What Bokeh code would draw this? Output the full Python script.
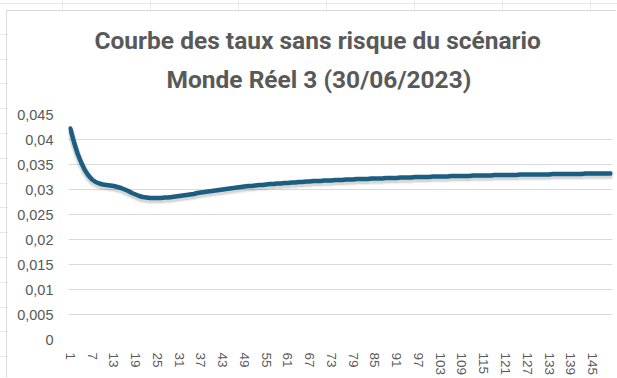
from bokeh.plotting import figure
from bokeh.models import FixedTicker, Title, Range1d
from bokeh.layouts import column
from bokeh.embed import file_html
from bokeh.resources import INLINE

# Maturities (years) and risk-free zero-coupon rates
maturities = list(range(1, 151))
rates = [
    0.0422, 0.0395, 0.0372, 0.0354, 0.0339, 0.0328, 0.0320, 0.0315, 0.0312, 0.0310,
    0.0309, 0.0308, 0.0307, 0.0305, 0.0303, 0.0300, 0.0297, 0.0293, 0.0290, 0.0287,
    0.0285, 0.0284, 0.0283, 0.0283, 0.0283, 0.0283, 0.0284, 0.0284, 0.0285, 0.0286,
    0.0287, 0.0288, 0.0289, 0.0290, 0.0291, 0.0293, 0.0294, 0.0295, 0.0296, 0.0297,
    0.0298, 0.0299, 0.0300, 0.0301, 0.0302, 0.0303, 0.0304, 0.0305, 0.0306, 0.0307,
    0.0307, 0.0308, 0.0309, 0.0309, 0.0310, 0.0311, 0.0311, 0.0312, 0.0312, 0.0313,
    0.0313, 0.0314, 0.0314, 0.0315, 0.0315, 0.0316, 0.0316, 0.0317, 0.0317, 0.0317,
    0.0318, 0.0318, 0.0318, 0.0319, 0.0319, 0.0319, 0.0320, 0.0320, 0.0320, 0.0321,
    0.0321, 0.0321, 0.0321, 0.0322, 0.0322, 0.0322, 0.0322, 0.0323, 0.0323, 0.0323,
    0.0323, 0.0324, 0.0324, 0.0324, 0.0324, 0.0325, 0.0325, 0.0325, 0.0325, 0.0325,
    0.0326, 0.0326, 0.0326, 0.0326, 0.0326, 0.0327, 0.0327, 0.0327, 0.0327, 0.0327,
    0.0327, 0.0328, 0.0328, 0.0328, 0.0328, 0.0328, 0.0328, 0.0329, 0.0329, 0.0329,
    0.0329, 0.0329, 0.0329, 0.0329, 0.0330, 0.0330, 0.0330, 0.0330, 0.0330, 0.0330,
    0.0330, 0.0330, 0.0330, 0.0331, 0.0331, 0.0331, 0.0331, 0.0331, 0.0331, 0.0331,
    0.0331, 0.0331, 0.0332, 0.0332, 0.0332, 0.0332, 0.0332, 0.0332, 0.0332, 0.0332,
]

y_ticks = [0, 0.005, 0.01, 0.015, 0.02, 0.025, 0.03, 0.035, 0.04, 0.045]
y_tick_labels = ["0", "0,005", "0,01", "0,015", "0,02", "0,025", "0,03", "0,035", "0,04", "0,045"]
x_ticks = list(range(1, 151, 6))

title_lines = ["Courbe des taux sans risque du scénario", "Monde Réel 3 (30/06/2023)"]

GREY_TEXT = "#595959"
GRID = "#d9d9d9"
LINE = "#1b5e80"

p = figure(
    width=610, height=367,
    output_backend="svg", toolbar_location=None,
    x_range=Range1d(0.5, 150.5), y_range=Range1d(0, 0.045),
    min_border_left=61, min_border_right=5, min_border_top=103, min_border_bottom=38,
    background_fill_color="white", border_fill_color="white",
)
p.margin = (11, 0, 0, 7)
p.styles = {"box-shadow": "-1px -1px 0 0 #d9d9d9"}
p.outline_line_color = None

# y axis
p.yaxis.ticker = FixedTicker(ticks=y_ticks)
p.yaxis.major_label_overrides = {t: s for t, s in zip(y_ticks, y_tick_labels)}
p.yaxis.axis_line_color = None
p.yaxis.major_tick_line_color = None
p.yaxis.minor_tick_line_color = None
p.yaxis.major_label_standoff = 9
p.yaxis.major_label_text_color = GREY_TEXT
p.yaxis.major_label_text_font = "Liberation Sans"
p.yaxis.major_label_text_font_size = "14.5px"

# x axis
p.xaxis.ticker = FixedTicker(ticks=x_ticks)
p.xaxis.axis_line_color = None
p.xaxis.major_tick_line_color = None
p.xaxis.minor_tick_line_color = None
p.xaxis.major_label_orientation = "vertical"
p.xaxis.major_label_standoff = 7
p.xaxis.major_label_text_color = GREY_TEXT
p.xaxis.major_label_text_font = "Liberation Sans"
p.xaxis.major_label_text_font_size = "13.5px"

p.xgrid.grid_line_color = None
p.ygrid.grid_line_color = GRID
p.ygrid.grid_line_width = 1.2

# soft drop shadow under the curve
for dy, w, a in [(0.00045, 8, 0.06), (0.00040, 6, 0.10)]:
    p.line(maturities, [r - dy for r in rates], line_color="black", line_width=w,
           line_alpha=a, line_join="round", line_cap="round")

p.line(maturities, rates, line_color=LINE, line_width=4.5, line_join="round", line_cap="round")

# two-line title: the line added first sits nearest the plot frame
title_style = dict(align="left", text_font="Roboto", text_font_style="bold",
                   text_font_size="24.5px", text_color=GREY_TEXT)
p.add_layout(Title(text=title_lines[1], offset=98, standoff=42, **title_style), "above")
p.add_layout(Title(text=title_lines[0], offset=26, standoff=-26, **title_style), "above")

page = column(p, styles={
    "background-color": "white",
    "background-image": (
        "repeating-linear-gradient(to bottom, transparent 0px, transparent 23.8px, #e8e8e8 23.8px, #e8e8e8 24.8px),"
        "repeating-linear-gradient(to right, transparent 0px, transparent 87px, #e8e8e8 87px, #e8e8e8 88px)"
    ),
    "background-position": "0 10px, -25px 0",
})

open("out.html", "w").write(file_html(page, INLINE))
